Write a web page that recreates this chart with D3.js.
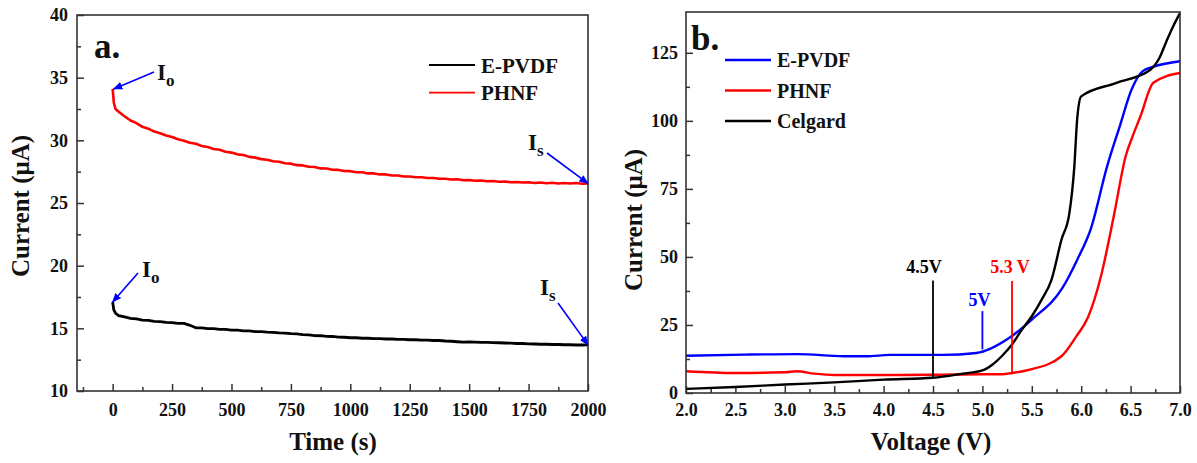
<!DOCTYPE html>
<html>
<head>
<meta charset="utf-8">
<script src="https://cdn.jsdelivr.net/npm/d3@7"></script>
<style>
  body { margin: 0; background: #fff; }
  svg { display: block; }
  text { font-family: "Liberation Serif", "Times New Roman", serif; font-weight: bold; }
</style>
</head>
<body>
<svg id="chart" width="1197" height="463"></svg>
<script>
// ---------- Panel a: chronoamperometry (current vs time) ----------
const timeS = [0, 5, 12, 25, 50, 75, 100, 125, 150, 175, 200, 225, 250, 275, 300, 325, 350, 375, 400,
  425, 450, 475, 500, 525, 550, 575, 600, 625, 650, 675, 700, 725, 750, 775, 800, 825, 850, 875, 900,
  925, 950, 975, 1000, 1025, 1050, 1075, 1100, 1125, 1150, 1175, 1200, 1225, 1250, 1275, 1300, 1325,
  1350, 1375, 1400, 1425, 1450, 1475, 1500, 1525, 1550, 1575, 1600, 1625, 1650, 1675, 1700, 1725,
  1750, 1775, 1800, 1825, 1850, 1875, 1900, 1925, 1950, 1975, 2000];

const phnfCurrent = [34.1, 33.0, 32.5, 32.28, 31.92, 31.58, 31.37, 31.08, 30.93, 30.7, 30.57, 30.38, 30.27,
  30.08, 29.97, 29.8, 29.72, 29.55, 29.47, 29.31, 29.25, 29.09, 29.02, 28.88, 28.83, 28.68, 28.62, 28.5,
  28.45, 28.33, 28.29, 28.17, 28.14, 28.02, 28.0, 27.89, 27.87, 27.76, 27.75, 27.65, 27.64, 27.55, 27.54,
  27.45, 27.45, 27.36, 27.36, 27.28, 27.28, 27.2, 27.2, 27.12, 27.12, 27.05, 27.06, 26.99, 27.0, 26.93,
  26.94, 26.87, 26.89, 26.82, 26.84, 26.77, 26.79, 26.73, 26.75, 26.69, 26.71, 26.66, 26.68, 26.63, 26.65,
  26.6, 26.63, 26.58, 26.61, 26.56, 26.6, 26.55, 26.59, 26.54, 26.56];

const epvdfCurrent = [17.1, 16.45, 16.22, 16.02, 15.92, 15.8, 15.76, 15.66, 15.63, 15.55, 15.54, 15.47, 15.46,
  15.4, 15.39, 15.24, 15.04, 15.04, 14.98, 14.98, 14.92, 14.91, 14.86, 14.85, 14.8, 14.79, 14.74, 14.73,
  14.69, 14.68, 14.63, 14.62, 14.57, 14.56, 14.5, 14.48, 14.42, 14.41, 14.36, 14.35, 14.3, 14.29, 14.25,
  14.25, 14.21, 14.21, 14.18, 14.18, 14.15, 14.15, 14.12, 14.12, 14.09, 14.09, 14.06, 14.06, 14.03, 14.03,
  13.99, 13.97, 13.93, 13.9, 13.92, 13.9, 13.88, 13.88, 13.86, 13.85, 13.83, 13.82, 13.79, 13.79, 13.76,
  13.75, 13.73, 13.73, 13.71, 13.71, 13.69, 13.69, 13.67, 13.67, 13.68];

const timeTicks = [0, 250, 500, 750, 1000, 1250, 1500, 1750, 2000];
const timeMinor = [-125, 125, 375, 625, 875, 1125, 1375, 1625, 1875];
const currentTicksA = [10, 15, 20, 25, 30, 35, 40];
const currentMinorA = [12.5, 17.5, 22.5, 27.5, 32.5, 37.5];

// ---------- Panel b: linear sweep voltammetry ----------
const epvdfV = [2.0, 2.59, 3.13, 3.6, 3.83, 4.06, 4.6, 4.94, 5.27, 5.5, 5.81, 5.96, 6.1, 6.26, 6.39, 6.51, 6.62, 6.74, 7.0];
const epvdfI = [13.7, 14.1, 14.3, 13.5, 13.5, 14.0, 14.0, 14.7, 20.2, 27.0, 38.6, 49.0, 60.6, 83.0, 98.0, 111.5, 118.2, 120.0, 121.9];

const phnfV = [2.0, 2.5, 3.0, 3.12, 3.3, 3.5, 4.0, 4.5, 5.0, 5.2, 5.3, 5.48, 5.8, 5.95, 6.07, 6.2, 6.33, 6.45, 6.52, 6.6, 6.73, 7.0];
const phnfI = [8.0, 7.35, 7.6, 8.0, 7.1, 6.6, 6.6, 6.7, 6.9, 6.9, 7.35, 8.6, 13.5, 20.8, 27.9, 42.9, 65.0, 87.0, 94.3, 101.7, 114.0, 117.6];

const celgardV = [2.0, 2.5, 3.0, 3.5, 4.0, 4.5, 4.8, 5.0, 5.1, 5.2, 5.3, 5.4, 5.5, 5.6, 5.7, 5.8, 5.88, 5.93, 5.96, 6.0, 6.35, 6.7, 6.79, 6.86, 6.93, 7.0];
const celgardI = [1.5, 2.2, 3.1, 3.9, 4.9, 5.6, 7.1, 8.3, 10.4, 13.7, 17.8, 23.3, 28.2, 34.3, 41.7, 56.3, 66.0, 83.0, 101.0, 109.0, 113.9, 118.8, 123.0, 129.0, 134.7, 139.6];

const voltTicks = [2.0, 2.5, 3.0, 3.5, 4.0, 4.5, 5.0, 5.5, 6.0, 6.5, 7.0];
const voltMinor = [2.25, 2.75, 3.25, 3.75, 4.25, 4.75, 5.25, 5.75, 6.25, 6.75];
const currentTicksB = [0, 25, 50, 75, 100, 125];
const currentMinorB = [12.5, 37.5, 62.5, 87.5, 112.5];

// onset potentials marked on panel b: voltage and the current span of each marker
const onsetLabels = ["4.5V", "5V", "5.3 V"];
const onsetV = [4.5, 5.0, 5.3];
const onsetLow = [5.6, 16.0, 7.3];
const onsetHigh = [41.3, 30.1, 41.2];

const svg = d3.select("#chart");

function frame(g, x, y) {
  g.append("rect")
    .attr("x", x.range()[0]).attr("y", y.range()[1])
    .attr("width", x.range()[1] - x.range()[0])
    .attr("height", y.range()[0] - y.range()[1])
    .attr("fill", "none").attr("stroke", "#333").attr("stroke-width", 1.6);
}

function axes(g, x, y, xt, xm, yt, ym, xfmt, yfmt, xpad, ypad) {
  g.append("g").attr("transform", `translate(0,${y.range()[0]})`)
    .call(d3.axisBottom(x).tickValues(xt).tickFormat(xfmt).tickSize(-7).tickSizeOuter(0).tickPadding(xpad));
  g.append("g").attr("transform", `translate(0,${y.range()[0]})`)
    .call(d3.axisBottom(x).tickValues(xm).tickFormat("").tickSize(-4).tickSizeOuter(0));
  g.append("g").attr("transform", `translate(${x.range()[0]},0)`)
    .call(d3.axisLeft(y).tickValues(yt).tickFormat(yfmt).tickSize(-7).tickSizeOuter(0).tickPadding(ypad));
  g.append("g").attr("transform", `translate(${x.range()[0]},0)`)
    .call(d3.axisLeft(y).tickValues(ym).tickFormat("").tickSize(-4).tickSizeOuter(0));
  g.selectAll(".domain").remove();
  g.selectAll(".tick line").attr("stroke", "#333").attr("stroke-width", 1.5);
  g.selectAll(".tick text").attr("fill", "#111").style("font-size", "18px")
    .style("font-family", '"Liberation Serif", serif').style("font-weight", "bold");
}

// ----- Panel a -----
const xA = d3.scaleLinear().domain([-150, 2000]).range([77, 588]);
const yA = d3.scaleLinear().domain([10, 40]).range([391, 15]);
const gA = svg.append("g");

axes(gA, xA, yA, timeTicks, timeMinor, currentTicksA, currentMinorA, d3.format("d"), d3.format("d"), 12, 9);

const lineA = d3.line().x((d, i) => xA(timeS[i])).y(d => yA(d));
gA.append("path").datum(epvdfCurrent).attr("d", lineA)
  .attr("fill", "none").attr("stroke", "#000").attr("stroke-width", 2.8).attr("stroke-linejoin", "round");
gA.append("path").datum(phnfCurrent).attr("d", lineA)
  .attr("fill", "none").attr("stroke", "#ff0000").attr("stroke-width", 2.6).attr("stroke-linejoin", "round");
frame(gA, xA, yA);

// arrow marker
svg.append("defs").append("marker")
  .attr("id", "arrowBlue").attr("viewBox", "0 0 10 10").attr("refX", 9).attr("refY", 5)
  .attr("markerWidth", 6).attr("markerHeight", 6).attr("orient", "auto")
  .append("path").attr("d", "M0,1 L10,5 L0,9 Z").attr("fill", "#0000ff");

function annotI(g, sub, tx, ty, fromX, fromY, toX, toY) {
  g.append("line").attr("x1", fromX).attr("y1", fromY).attr("x2", toX).attr("y2", toY)
    .attr("stroke", "#0000ff").attr("stroke-width", 1.6).attr("marker-end", "url(#arrowBlue)");
  const t = g.append("text").attr("x", tx).attr("y", ty).attr("fill", "#111").style("font-size", "23px");
  t.append("tspan").text("I");
  t.append("tspan").attr("dy", 6).style("font-size", "17px").text(sub);
}
const last = timeS.length - 1;
annotI(gA, "o", 157, 80, 154, 72, xA(timeS[0]) + 1, yA(phnfCurrent[0]));
annotI(gA, "o", 142, 277, 138, 273, xA(timeS[0]), yA(epvdfCurrent[0]));
annotI(gA, "s", 528, 150, 547, 153, xA(timeS[last]), yA(phnfCurrent[last]));
annotI(gA, "s", 540, 295, 558, 303, xA(timeS[last]), yA(epvdfCurrent[last]));

gA.append("text").attr("x", 94).attr("y", 58).style("font-size", "35px").attr("fill", "#111").text("a.");

// legend a
const legA = [["E-PVDF", "#000"], ["PHNF", "#ff0000"]];
legA.forEach((d, i) => {
  const yy = 65 + i * 27.7;
  gA.append("line").attr("x1", 429).attr("x2", 475).attr("y1", yy).attr("y2", yy)
    .attr("stroke", d[1]).attr("stroke-width", 1.8);
  gA.append("text").attr("x", 481).attr("y", yy + 7.5).style("font-size", "21px").attr("fill", "#111").text(d[0]);
});

gA.append("text").attr("transform", "translate(29,206) rotate(-90)").attr("text-anchor", "middle")
  .style("font-size", "25px").attr("fill", "#111").text("Current (μA)");
gA.append("text").attr("x", 333).attr("y", 450).attr("text-anchor", "middle")
  .style("font-size", "25px").attr("fill", "#111").text("Time (s)");

// ----- Panel b -----
const xB = d3.scaleLinear().domain([2, 7]).range([686, 1180]);
const yB = d3.scaleLinear().domain([0, 140]).range([393, 12]);
const gB = svg.append("g");

axes(gB, xB, yB, voltTicks, voltMinor, currentTicksB, currentMinorB, d3.format(".1f"), d3.format("d"), 10, 8);

const curves = [
  [epvdfV, epvdfI, "#0000ff"],
  [phnfV, phnfI, "#ff0000"],
  [celgardV, celgardI, "#000"]
];
curves.forEach(([vs, is, c]) => {
  const ln = d3.line().x((d, i) => xB(vs[i])).y(d => yB(d)).curve(d3.curveMonotoneX);
  gB.append("path").datum(is).attr("d", ln)
    .attr("fill", "none").attr("stroke", c).attr("stroke-width", 2.4).attr("stroke-linejoin", "round");
});

// onset markers
const onsetColors = ["#000", "#0000ff", "#ff0000"];
const onsetTextDx = [-9, -3, -2];
const onsetTextY = [273, 306, 273];
onsetV.forEach((v, i) => {
  gB.append("line").attr("x1", xB(v)).attr("x2", xB(v))
    .attr("y1", yB(onsetLow[i])).attr("y2", yB(onsetHigh[i]))
    .attr("stroke", onsetColors[i]).attr("stroke-width", 1.8);
  gB.append("text").attr("x", xB(v) + onsetTextDx[i]).attr("y", onsetTextY[i])
    .attr("text-anchor", "middle").style("font-size", "18px")
    .attr("fill", onsetColors[i]).text(onsetLabels[i]);
});

frame(gB, xB, yB);

gB.append("text").attr("x", 691).attr("y", 50).style("font-size", "35px").attr("fill", "#111").text("b.");

const legB = [["E-PVDF", "#0000ff"], ["PHNF", "#ff0000"], ["Celgard", "#000"]];
legB.forEach((d, i) => {
  const yy = 60 + i * 30.5;
  gB.append("line").attr("x1", 725).attr("x2", 771).attr("y1", yy).attr("y2", yy)
    .attr("stroke", d[1]).attr("stroke-width", 2.6);
  gB.append("text").attr("x", 777).attr("y", yy + 7).style("font-size", "20px").attr("fill", "#111").text(d[0]);
});

gB.append("text").attr("transform", "translate(642,220) rotate(-90)").attr("text-anchor", "middle")
  .style("font-size", "25px").attr("fill", "#111").text("Current (μA)");
gB.append("text").attr("x", 931).attr("y", 450).attr("text-anchor", "middle")
  .style("font-size", "25px").attr("fill", "#111").text("Voltage (V)");
</script>
</body>
</html>
